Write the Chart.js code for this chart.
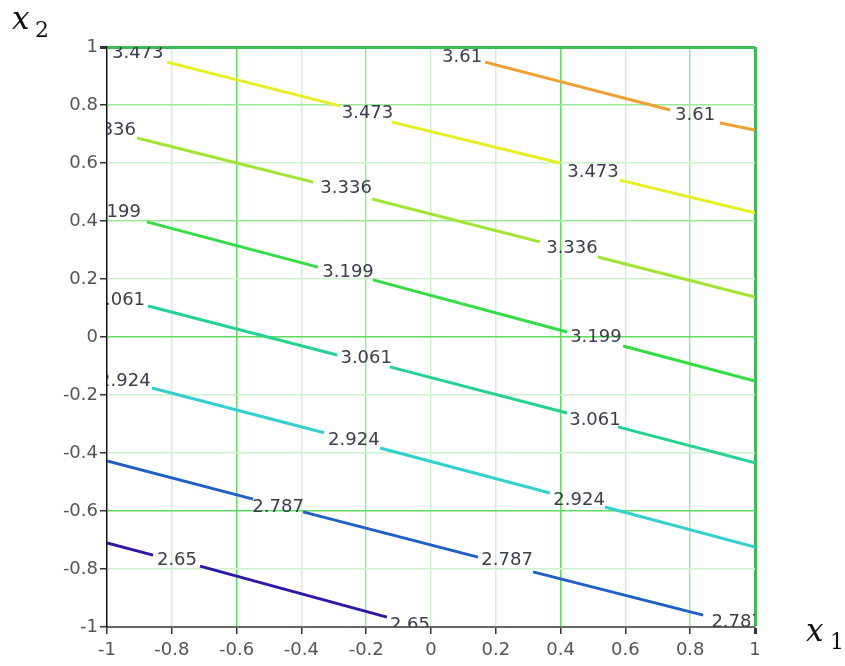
<!DOCTYPE html>
<html>
<head>
<meta charset="utf-8">
<script src="https://cdn.jsdelivr.net/npm/chart.js@4"></script>
<style>
html,body{margin:0;padding:0;background:#fff;}
#wrap{width:845px;height:666px;position:relative;}
</style>
</head>
<body>
<div id="wrap"><canvas id="c" width="845" height="666"></canvas></div>
<script>
// Contour levels and colours
const levels = ['3.61', '3.473', '3.336', '3.199', '3.061', '2.924', '2.787', '2.65'];
const lineColors = ['#f0a030', '#e6f020', '#9fe633', '#33dd44', '#22d490', '#33d0d0', '#1f5fc8', '#2a18a8'];

// Line segments of each contour (x1, x2 points; null = gap for a label)
const seg361 = [[0.167, 0.948], [0.738, 0.783], null, [0.892, 0.738], [1, 0.714]];
const seg3473 = [[-0.815, 0.948], [-0.281, 0.797], null, [-0.120, 0.741], [0.398, 0.600], null, [0.583, 0.541], [1, 0.428]];
const seg3336 = [[-0.907, 0.686], [-0.364, 0.534], null, [-0.182, 0.476], [0.336, 0.328], null, [0.515, 0.276], [1, 0.138]];
const seg3199 = [[-0.877, 0.397], [-0.349, 0.241], null, [-0.179, 0.197], [0.420, 0.017], null, [0.593, -0.031], [1, -0.152]];
const seg3061 = [[-0.873, 0.107], [-0.290, -0.062], null, [-0.127, -0.103], [0.420, -0.262], null, [0.577, -0.310], [1, -0.434]];
const seg2924 = [[-0.861, -0.176], [-0.330, -0.330], null, [-0.157, -0.383], [0.367, -0.538], null, [0.537, -0.586], [1, -0.724]];
const seg2787 = [[-1, -0.427], [-0.549, -0.559], null, [-0.395, -0.603], [0.145, -0.759], null, [0.315, -0.810], [0.840, -0.959]];
const seg265 = [[-1, -0.710], [-0.858, -0.752], null, [-0.713, -0.790], [-0.136, -0.966]];
const segments = [seg361, seg3473, seg3336, seg3199, seg3061, seg2924, seg2787, seg265];

// Where each contour's value labels sit (x1, x2)
const lab361 = [[0.096, 0.966], [0.815, 0.764]];
const lab3473 = [[-0.905, 0.978], [-0.196, 0.772], [0.500, 0.568]];
const lab3336 = [[-0.990, 0.712], [-0.262, 0.512], [0.435, 0.305]];
const lab3199 = [[-0.975, 0.429], [-0.256, 0.222], [0.509, -0.002]];
const lab3061 = [[-0.962, 0.126], [-0.200, -0.074], [0.506, -0.288]];
const lab2924 = [[-0.945, -0.154], [-0.238, -0.357], [0.457, -0.564]];
const lab2787 = [[-0.472, -0.588], [0.235, -0.771], [0.945, -0.985]];
const lab265 = [[-0.784, -0.771], [-0.065, -0.995]];
const labels = [lab361, lab3473, lab3336, lab3199, lab3061, lab2924, lab2787, lab265];

// Axis ticks
const xTicks = [-1, -0.8, -0.6, -0.4, -0.2, 0, 0.2, 0.4, 0.6, 0.8, 1];
const yTicks = [-1, -0.8, -0.6, -0.4, -0.2, 0, 0.2, 0.4, 0.6, 0.8, 1];

// grid styles: 0 pale, 1 medium, 2 bright, 3 edge
const xGridKind = [-1, 0, 2, 0, 1, 0, 0, 2, 0, 1, 3];
const yGridKind = [-1, 0, 2, 0, 0, 2, 0, 1, 0, 1, 3];
const gridColor = {0: '#cdf2cd', 1: '#9ee89e', 2: '#5fdc5f', 3: '#3cbc55'};

function fmt(v) {
  const r = Math.round(v * 10) / 10;
  return String(r);
}

const datasets = segments.map((seg, i) => {
  let prevX = -1;
  const data = seg.map(p => {
    if (p === null) return {x: prevX, y: null};
    prevX = p[0];
    return {x: p[0], y: p[1]};
  });
  return {
    label: levels[i],
    data: data,
    showLine: true,
    borderColor: lineColors[i],
    backgroundColor: lineColors[i],
    borderWidth: 3,
    pointRadius: 0,
    spanGaps: false,
    fill: false,
    tension: 0
  };
});

const labelPlugin = {
  id: 'contourLabels',
  afterDatasetsDraw(chart) {
    const ctx = chart.ctx;
    const a = chart.chartArea;
    const xs = chart.scales.x, ys = chart.scales.y;
    ctx.save();
    ctx.beginPath();
    ctx.rect(a.left, a.top, a.right - a.left, a.bottom - a.top);
    ctx.clip();
    ctx.font = '18px "DejaVu Sans"';
    ctx.fillStyle = '#3c3c4c';
    ctx.textAlign = 'center';
    ctx.textBaseline = 'middle';
    labels.forEach((list, i) => {
      list.forEach(p => {
        ctx.fillText(levels[i], xs.getPixelForValue(p[0]), ys.getPixelForValue(p[1]));
      });
    });
    ctx.restore();
    // axis titles
    ctx.save();
    ctx.fillStyle = '#111';
    ctx.textAlign = 'left';
    ctx.textBaseline = 'alphabetic';
    ctx.font = 'italic 31px "DejaVu Serif"';
    ctx.fillText('x', 12, 29);
    ctx.font = '22px "DejaVu Serif"';
    ctx.fillText('2', 35, 37);
    ctx.font = 'italic 31px "DejaVu Serif"';
    ctx.fillText('x', 806, 641);
    ctx.font = '22px "DejaVu Serif"';
    ctx.fillText('1', 830, 649);
    ctx.restore();
  }
};

new Chart(document.getElementById('c'), {
  type: 'scatter',
  data: {datasets: datasets},
  plugins: [labelPlugin],
  options: {
    responsive: false,
    animation: false,
    events: [],
    layout: {padding: {top: 47, right: 90, left: 0, bottom: 0}},
    plugins: {legend: {display: false}, tooltip: {enabled: false}},
    scales: {
      x: {
        type: 'linear', min: -1, max: 1,
        afterBuildTicks(scale) { scale.ticks = xTicks.map(v => ({value: v})); },
        afterFit(scale) { scale.height = 39; },
        ticks: {
          callback: v => fmt(v),
          color: '#555', padding: 6,
          font: {family: 'DejaVu Sans', size: 18},
          maxRotation: 0, autoSkip: false
        },
        grid: {
          color: c => { const k = xGridKind[c.index]; return k < 0 ? 'rgba(0,0,0,0)' : gridColor[k]; },
          lineWidth: c => (xGridKind[c.index] === 3 ? 3 : 1.5),
          tickColor: '#333', tickLength: 7, drawTicks: true
        },
        border: {color: '#666', width: 2}
      },
      y: {
        type: 'linear', min: -1, max: 1,
        afterBuildTicks(scale) { scale.ticks = yTicks.map(v => ({value: v})); },
        afterFit(scale) { scale.width = 107; },
        ticks: {
          callback: v => fmt(v),
          color: '#555', padding: 2,
          font: {family: 'DejaVu Sans', size: 18},
          autoSkip: false
        },
        grid: {
          color: c => { const k = yGridKind[c.index]; return k < 0 ? 'rgba(0,0,0,0)' : gridColor[k]; },
          lineWidth: c => (yGridKind[c.index] === 3 ? 3 : 1.5),
          tickColor: '#333', tickLength: 7, drawTicks: true
        },
        border: {color: '#111', width: 1.5}
      }
    }
  }
});
</script>
</body>
</html>
